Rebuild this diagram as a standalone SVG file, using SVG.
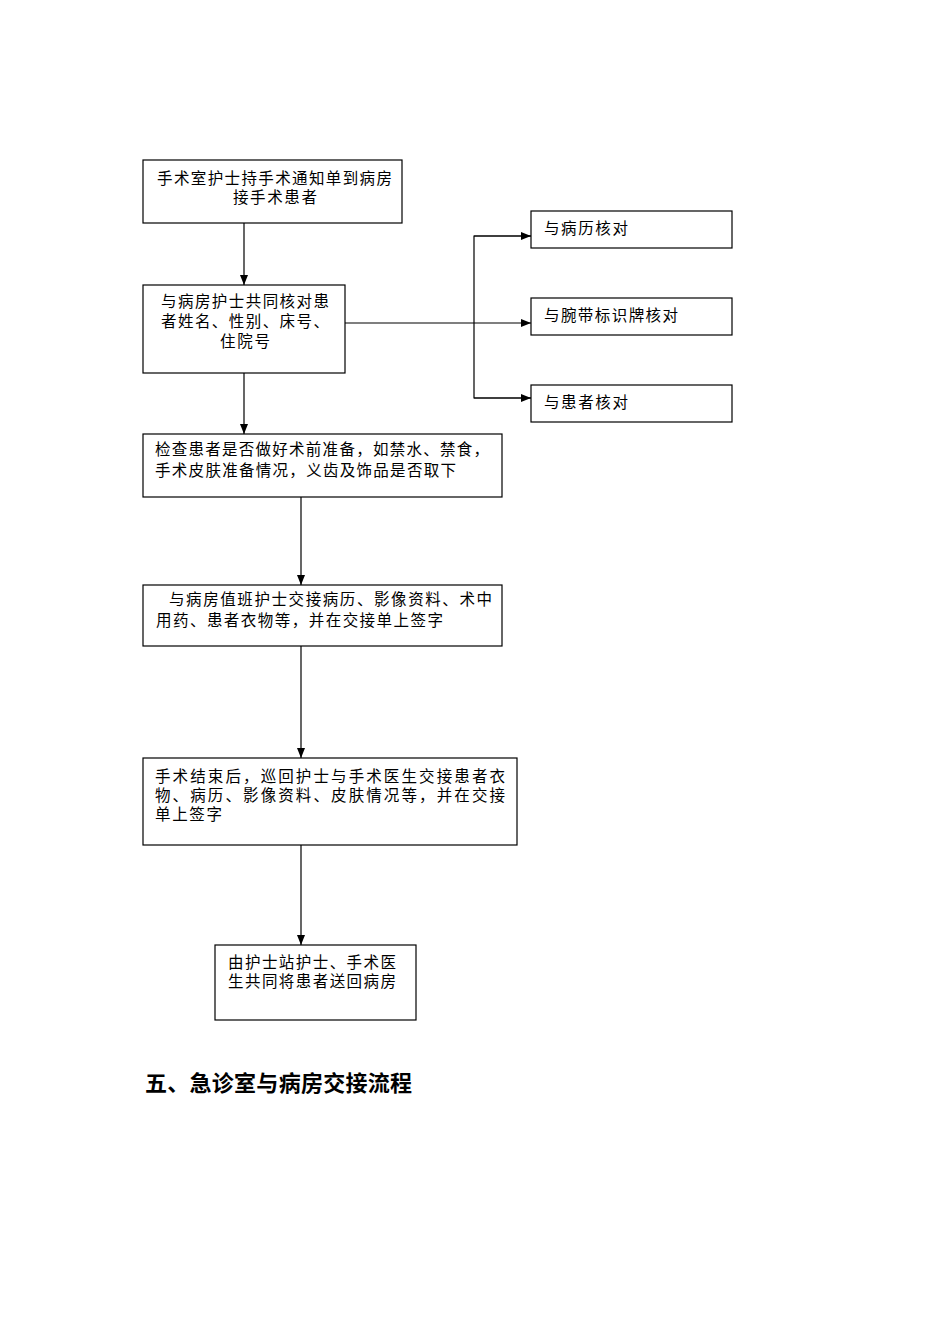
<svg xmlns="http://www.w3.org/2000/svg" width="950" height="1344" viewBox="0 0 950 1344">
<style>
.box{fill:#fff;stroke:#000;stroke-width:1.2}
.t{font-family:"Liberation Serif","Noto Sans CJK SC",serif;font-size:15.5px;fill:#000}
.c{text-anchor:middle}
.ln{stroke:#000;stroke-width:1.2;fill:none}
.h{font-family:"Liberation Serif","Noto Sans CJK SC",serif;font-size:22px;font-weight:bold;fill:#000}
</style>
<defs>
<marker id="ar" markerWidth="10" markerHeight="8" refX="10" refY="4" orient="auto" markerUnits="userSpaceOnUse">
<path d="M0,0 L10,4 L0,8 Z" fill="#000"/>
</marker>
</defs>
<rect width="950" height="1344" fill="#fff"/>
<g id="connectors">
<line class="ln" x1="244" y1="223" x2="244" y2="285" marker-end="url(#ar)"/>
<line class="ln" x1="345" y1="323" x2="531" y2="323" marker-end="url(#ar)"/>
<polyline class="ln" points="531,236 474,236 474,398 531,398"/>
<line class="ln" x1="474" y1="236" x2="531" y2="236" marker-end="url(#ar)"/>
<line class="ln" x1="474" y1="398" x2="531" y2="398" marker-end="url(#ar)"/>
<line class="ln" x1="244" y1="373" x2="244" y2="434" marker-end="url(#ar)"/>
<line class="ln" x1="301" y1="497" x2="301" y2="585" marker-end="url(#ar)"/>
<line class="ln" x1="301" y1="646" x2="301" y2="758" marker-end="url(#ar)"/>
<line class="ln" x1="301" y1="845" x2="301" y2="945" marker-end="url(#ar)"/>
</g>
<g id="n1">
<rect class="box" x="143" y="160" width="259" height="63"/>
<text class="t" x="157" y="184" textLength="235" lengthAdjust="spacing">手术室护士持手术通知单到病房</text>
<text class="t" x="233" y="203" textLength="84" lengthAdjust="spacing">接手术患者</text>
</g>
<g id="n2">
<rect class="box" x="143" y="285" width="202" height="88"/>
<text class="t" x="161" y="307" textLength="168" lengthAdjust="spacing">与病房护士共同核对患</text>
<text class="t" x="161" y="327" textLength="168" lengthAdjust="spacing">者姓名、性别、床号、</text>
<text class="t" x="220" y="347" textLength="50" lengthAdjust="spacing">住院号</text>
</g>
<g id="n3">
<rect class="box" x="531" y="211" width="201" height="37"/>
<text class="t" x="544" y="234" textLength="84" lengthAdjust="spacing">与病历核对</text>
</g>
<g id="n4">
<rect class="box" x="531" y="298" width="201" height="37"/>
<text class="t" x="544" y="321" textLength="134" lengthAdjust="spacing">与腕带标识牌核对</text>
</g>
<g id="n5">
<rect class="box" x="531" y="385" width="201" height="37"/>
<text class="t" x="544" y="408" textLength="84" lengthAdjust="spacing">与患者核对</text>
</g>
<g id="n6">
<rect class="box" x="143" y="434" width="359" height="63"/>
<text class="t" x="155" y="455" textLength="334" lengthAdjust="spacing">检查患者是否做好术前准备，如禁水、禁食，</text>
<text class="t" x="155" y="476" textLength="301" lengthAdjust="spacing">手术皮肤准备情况，义齿及饰品是否取下</text>
</g>
<g id="n7">
<rect class="box" x="143" y="585" width="359" height="61"/>
<text class="t" x="169" y="605" textLength="323" lengthAdjust="spacing">与病房值班护士交接病历、影像资料、术中</text>
<text class="t" x="156" y="626" textLength="287" lengthAdjust="spacing">用药、患者衣物等，并在交接单上签字</text>
</g>
<g id="n8">
<rect class="box" x="143" y="758" width="374" height="87"/>
<text class="t" x="155" y="782" textLength="350" lengthAdjust="spacing">手术结束后，巡回护士与手术医生交接患者衣</text>
<text class="t" x="155" y="801" textLength="350" lengthAdjust="spacing">物、病历、影像资料、皮肤情况等，并在交接</text>
<text class="t" x="155" y="820" textLength="67" lengthAdjust="spacing">单上签字</text>
</g>
<g id="n9">
<rect class="box" x="215" y="945" width="201" height="75"/>
<text class="t" x="228" y="968" textLength="168" lengthAdjust="spacing">由护士站护士、手术医</text>
<text class="t" x="228" y="987" textLength="168" lengthAdjust="spacing">生共同将患者送回病房</text>
</g>
<text class="h" x="145" y="1091" textLength="267" lengthAdjust="spacing">五、急诊室与病房交接流程</text>
</svg>
